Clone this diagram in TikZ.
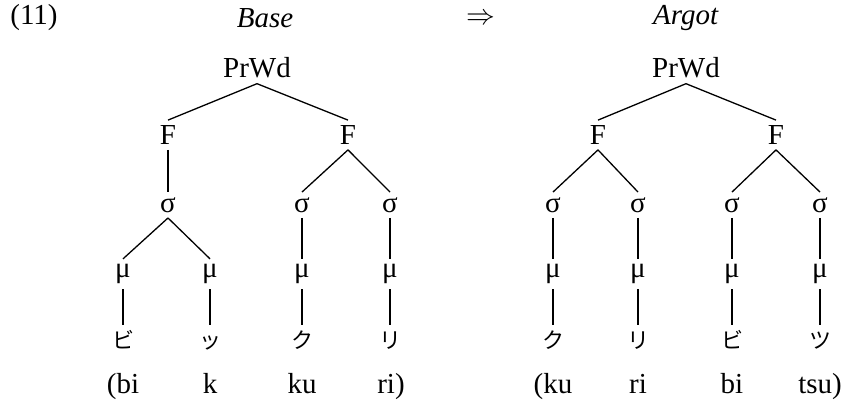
\documentclass[tikz,border=0pt]{standalone}
\usepackage{fontspec}
\setmainfont{Liberation Serif}
\newfontfamily\jpfont{Noto Sans CJK JP}
\tikzset{
  lab/.style={inner sep=2.5pt, font=\fontsize{14.5}{16}\selectfont},
  roma/.style={lab, anchor=base},
  kana/.style={inner sep=2.5pt, text height=9pt, text depth=1pt, font=\jpfont\fontsize{11}{12}\selectfont},
  branch/.style={line width=0.65pt}
}
\begin{document}
\begin{tikzpicture}[x=0.5pt,y=-0.5pt]
                \useasboundingbox (0,0) rectangle (846,409);

                \node[lab] (num) at (34,18) {(11)};
                \node[lab] (base) at (265,18) {\textit{Base}};
                \node[lab] (arr) at (481,19) {$\Rightarrow$};
                \node[lab] (argot) at (686,18) {\textit{Argot}};

                % base tree
                \node[lab] (pl) at (257,68) {PrWd};
                \node[lab] (fl1) at (168,135) {F};
                \node[lab] (fl2) at (348,135) {F};
                \node[lab] (sl1) at (168,205) {σ};
                \node[lab] (sl2) at (302,205) {σ};
                \node[lab] (sl3) at (390,205) {σ};
                \node[lab] (ml1) at (123,274) {μ};
                \node[lab] (ml2) at (210,274) {μ};
                \node[lab] (ml3) at (302,274) {μ};
                \node[lab] (ml4) at (390,274) {μ};
                \node[kana] (kl1) at (123,340) {ビ};
                \node[kana] (kl2) at (210,340) {ッ};
                \node[kana] (kl3) at (302,340) {ク};
                \node[kana] (kl4) at (390,340) {リ};
                \node[roma] (rl1) at (123,393) {(bi};
                \node[roma] (rl2) at (210,393) {k};
                \node[roma] (rl3) at (302,393) {ku};
                \node[roma] (rl4) at (391,393) {ri)};

                \draw [branch] (pl.south) -- (fl1.north);
                \draw [branch] (pl.south) -- (fl2.north);
                \draw [branch] (fl1.south) -- (sl1.north);
                \draw [branch] (fl2.south) -- (sl2.north);
                \draw [branch] (fl2.south) -- (sl3.north);
                \draw [branch] (sl1.south) -- (ml1.north);
                \draw [branch] (sl1.south) -- (ml2.north);
                \draw [branch] (sl2.south) -- (ml3.north);
                \draw [branch] (sl3.south) -- (ml4.north);
                \draw [branch] (ml1.south) -- (kl1.north);
                \draw [branch] (ml2.south) -- (kl2.north);
                \draw [branch] (ml3.south) -- (kl3.north);
                \draw [branch] (ml4.south) -- (kl4.north);

                % argot tree
                \node[lab] (pr) at (686,68) {PrWd};
                \node[lab] (fr1) at (598,135) {F};
                \node[lab] (fr2) at (776,135) {F};
                \node[lab] (sr1) at (553,205) {σ};
                \node[lab] (sr2) at (638,205) {σ};
                \node[lab] (sr3) at (732,205) {σ};
                \node[lab] (sr4) at (820,205) {σ};
                \node[lab] (mr1) at (553,274) {μ};
                \node[lab] (mr2) at (638,274) {μ};
                \node[lab] (mr3) at (732,274) {μ};
                \node[lab] (mr4) at (820,274) {μ};
                \node[kana] (kr1) at (553,340) {ク};
                \node[kana] (kr2) at (638,340) {リ};
                \node[kana] (kr3) at (732,340) {ビ};
                \node[kana] (kr4) at (820,340) {ツ};
                \node[roma] (rr1) at (553,393) {(ku};
                \node[roma] (rr2) at (638,393) {ri};
                \node[roma] (rr3) at (732,393) {bi};
                \node[roma] (rr4) at (820,393) {tsu)};

                \draw [branch] (pr.south) -- (fr1.north);
                \draw [branch] (pr.south) -- (fr2.north);
                \draw [branch] (fr1.south) -- (sr1.north);
                \draw [branch] (fr1.south) -- (sr2.north);
                \draw [branch] (fr2.south) -- (sr3.north);
                \draw [branch] (fr2.south) -- (sr4.north);
                \draw [branch] (sr1.south) -- (mr1.north);
                \draw [branch] (sr2.south) -- (mr2.north);
                \draw [branch] (sr3.south) -- (mr3.north);
                \draw [branch] (sr4.south) -- (mr4.north);
                \draw [branch] (mr1.south) -- (kr1.north);
                \draw [branch] (mr2.south) -- (kr2.north);
                \draw [branch] (mr3.south) -- (kr3.north);
                \draw [branch] (mr4.south) -- (kr4.north);
\end{tikzpicture}
\end{document}
